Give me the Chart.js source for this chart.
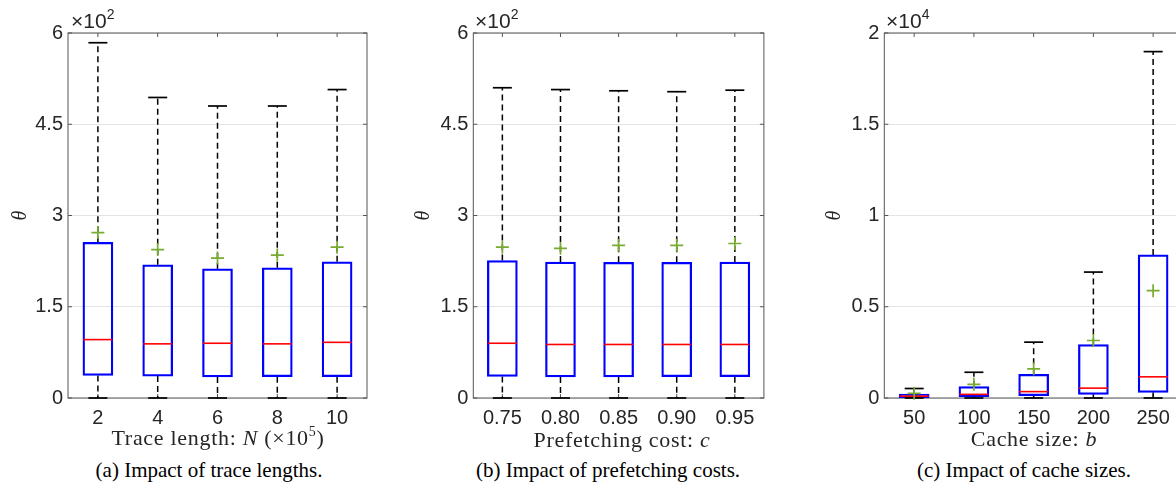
<!DOCTYPE html>
<html>
<head>
<meta charset="utf-8">
<script src="https://cdn.jsdelivr.net/npm/chart.js@4.4.1/dist/chart.umd.min.js"></script>
<style>
    html, body { margin: 0; padding: 0; background: #fff; }
    body { position: relative; width: 1176px; height: 492px; overflow: hidden; }
    canvas { position: absolute; top: 0; }
    .lbl { position: absolute; white-space: nowrap; color: #262626; transform: translateX(-50%); line-height: 24px; }
    .xtitle { font-family: "Liberation Serif", serif; font-size: 22px; letter-spacing: 0.7px; }
    .caption { font-family: "Liberation Serif", serif; font-size: 21px; color: #000; }
    .expo { position: absolute; font-family: "Liberation Sans", Arial, sans-serif; font-size: 21px; line-height: 20px; color: #262626; white-space: nowrap; }
    .sup { position: relative; font-size: 14px; top: -9px; }
</style>
</head>
<body>
<canvas id="chartA" width="392" height="440" style="left:0px"></canvas>
<canvas id="chartB" width="380" height="440" style="left:400px"></canvas>
<canvas id="chartC" width="400" height="440" style="left:800px"></canvas>

<div class="expo" style="left:71px;top:11px">&times;10<span class="sup">2</span></div>
<div class="expo" style="left:475px;top:11px">&times;10<span class="sup">2</span></div>
<div class="expo" style="left:886px;top:11px">&times;10<span class="sup">4</span></div>

<div class="lbl xtitle" style="left:218px;top:426px">Trace length: <i>N</i> (&times;10<span class="sup">5</span>)</div>
<div class="lbl xtitle" style="left:622px;top:428px">Prefetching cost: <i>c</i></div>
<div class="lbl xtitle" style="left:1034px;top:427px">Cache size: <i>b</i></div>

<div class="lbl caption" style="left:209px;top:458px">(a) Impact of trace lengths.</div>
<div class="lbl caption" style="left:608px;top:458px">(b) Impact of prefetching costs.</div>
<div class="lbl caption" style="left:1024px;top:458px">(c) Impact of cache sizes.</div>

<script>
// ---------------------------------------------------------------- DATA
// (a) trace length, raw values (axis shows x10^2)
var labelsA = ['2', '4', '6', '8', '10'];
var loA   = [0, 0, 0, 0, 0];
var q1A   = [37, 36, 34.5, 35, 35];
var medA  = [96, 89, 90, 89, 91.5];
var q3A   = [256, 219, 212.5, 214, 224];
var hiA   = [584, 494, 480, 480, 507];
var meanA = [272, 244, 230, 235, 248];

// (b) prefetching cost (x10^2)
var labelsB = ['0.75', '0.80', '0.85', '0.90', '0.95'];
var loB   = [0, 0, 0, 0, 0];
var q1B   = [35.5, 34.5, 34.5, 35, 35];
var medB  = [90, 88, 88, 88, 88];
var q3B   = [226, 223.5, 223, 223, 223.5];
var hiB   = [510, 507, 505, 503.5, 506];
var meanB = [248, 246, 251, 251, 254];

// (c) cache size (x10^4)
var labelsC = ['50', '100', '150', '200', '250'];
var loC   = [0, 0, 0, 0, 0];
var q1C   = [20, 75, 130, 200, 312];
var medC  = [100, 200, 350, 540, 1160];
var q3C   = [220, 620, 1300, 2930, 7840];
var hiC   = [520, 1410, 3060, 6900, 18980];
var meanC = [257, 750, 1600, 3150, 5880];

var ticksA = [0, 150, 300, 450, 600];
var ticksC = [0, 5000, 10000, 15000, 20000];

// ---------------------------------------------------------------- HELPERS
var TICK_FONT = { family: 'Liberation Sans', size: 20 };
var TEXT_COLOR = '#262626';

var framePlugin = {
    id: 'frame',
    beforeDatasetsDraw: function(chart) {
        var a = chart.chartArea, ctx = chart.ctx;
        var xs = chart.scales.x, ys = chart.scales.y;
        ctx.save();
        ctx.strokeStyle = '#555555';
        ctx.lineWidth = 1;
        ctx.strokeRect(a.left, a.top, a.right - a.left, a.bottom - a.top);
        ctx.beginPath();
        for (var i = 0; i < xs.ticks.length; i++) {
            var px = xs.getPixelForTick(i);
            ctx.moveTo(px, a.top); ctx.lineTo(px, a.top + 4);
            ctx.moveTo(px, a.bottom); ctx.lineTo(px, a.bottom - 4);
        }
        ys.ticks.forEach(function(t) {
            var py = ys.getPixelForValue(t.value);
            ctx.moveTo(a.left, py); ctx.lineTo(a.left + 4, py);
            ctx.moveTo(a.right, py); ctx.lineTo(a.right - 4, py);
        });
        ctx.stroke();
        ctx.restore();
    }
};

function whiskerPoints(labels, from, to) {
    var pts = [];
    for (var i = 0; i < labels.length; i++) {
        pts.push({ x: labels[i], y: from[i] }, { x: labels[i], y: to[i] }, { x: labels[i], y: null });
    }
    return pts;
}

function boxPlot(id, labels, lo, q1, med, q3, hi, mean, yTicks, div, yWidth, padRight, titlePad) {
    var ctx = document.getElementById(id).getContext('2d');
    var boxes = labels.map(function(l, i) { return [q1[i], q3[i]]; });
    var marks = { type: 'line', showLine: false, clip: false, pointHoverRadius: 0 };
    return new Chart(ctx, {
        type: 'bar',
        data: {
            labels: labels,
            datasets: [
                Object.assign({}, marks, { data: mean, pointStyle: 'cross', pointRadius: 6.5,
                    pointBorderColor: '#77AC30', pointBorderWidth: 1.7 }),
                Object.assign({}, marks, { data: med, pointStyle: 'line', pointRadius: 14.5,
                    pointBorderColor: '#ff0000', pointBorderWidth: 1.6 }),
                Object.assign({}, marks, { data: hi, pointStyle: 'line', pointRadius: 9.5,
                    pointBorderColor: '#000000', pointBorderWidth: 1.7 }),
                Object.assign({}, marks, { data: lo, pointStyle: 'line', pointRadius: 9.5,
                    pointBorderColor: '#000000', pointBorderWidth: 1.7 }),
                {
                    type: 'bar',
                    data: boxes,
                    backgroundColor: 'rgba(255,255,255,0)',
                    borderColor: '#0000ff',
                    borderWidth: 1.6,
                    borderSkipped: false,
                    barThickness: 30,
                    grouped: false
                },
                {
                    type: 'line',
                    data: whiskerPoints(labels, q3, hi).concat(whiskerPoints(labels, q1, lo)),
                    borderColor: '#000000',
                    borderWidth: 1.5,
                    borderDash: [6, 4],
                    pointRadius: 0,
                    spanGaps: false,
                    clip: false
                }
            ]
        },
        options: {
            responsive: false,
            animation: false,
            events: [],
            layout: { padding: { top: 33, right: padRight, left: 0, bottom: 0 } },
            plugins: { legend: { display: false }, tooltip: { enabled: false } },
            scales: {
                x: {
                    offset: true,
                    grid: { display: false, drawTicks: false },
                    border: { display: false },
                    ticks: { font: TICK_FONT, color: TEXT_COLOR, padding: 8, maxRotation: 0, autoSkip: false },
                    afterFit: function(s) { s.height = 42; }
                },
                y: {
                    min: yTicks[0],
                    max: yTicks[yTicks.length - 1],
                    afterBuildTicks: function(s) { s.ticks = yTicks.map(function(v) { return { value: v }; }); },
                    grid: { color: '#e4e4e4', drawTicks: false },
                    border: { display: false },
                    ticks: {
                        font: TICK_FONT, color: TEXT_COLOR, padding: 5,
                        callback: function(v) { return String(v / div); }
                    },
                    title: {
                        display: true, text: 'θ', color: TEXT_COLOR,
                        font: { family: 'Liberation Serif', style: 'italic', size: 20 },
                        padding: { top: titlePad, bottom: 0 }
                    },
                    afterFit: function(s) { s.width = yWidth; }
                }
            }
        },
        plugins: [framePlugin]
    });
}

// ---------------------------------------------------------------- MAIN
boxPlot('chartA', labelsA, loA, q1A, medA, q3A, hiA, meanA, ticksA, 100, 68, 25, 9);
boxPlot('chartB', labelsB, loB, q1B, medB, q3B, hiB, meanB, ticksA, 100, 73.3, 8.3, 11.5);
boxPlot('chartC', labelsC, loC, q1C, medC, q3C, hiC, meanC, ticksC, 10000, 84.3, 17, 23);
</script>
</body>
</html>
